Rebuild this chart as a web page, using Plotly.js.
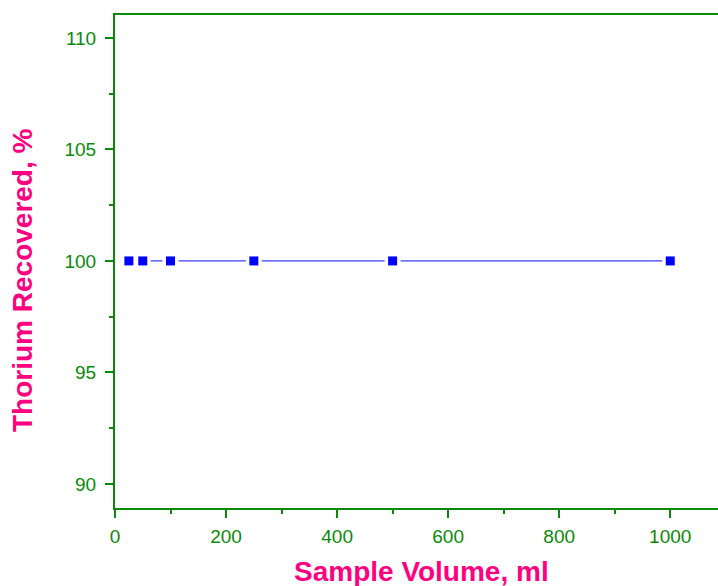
<!DOCTYPE html>
<html>
<head>
<meta charset="utf-8">
<script src="https://cdn.plot.ly/plotly-3.0.1.min.js"></script>
<style>html,body{margin:0;padding:0;background:#fff;}#chart{width:718px;height:586px;}</style>
</head>
<body>
<div id="chart"></div>
<script>
const sampleVolume = [25, 50, 100, 250, 500, 1000];
const thoriumRecovered = [100, 100, 100, 100, 100, 100];
const xTickVals = [0, 200, 400, 600, 800, 1000];
const yTickVals = [90, 95, 100, 105, 110];
const xTitle = 'Sample Volume, ml';
const yTitle = 'Thorium Recovered, %';

const green = '#0a8a0a';
const pink = '#ff0080';

const lineTrace = {
  x: sampleVolume,
  y: thoriumRecovered,
  type: 'scatter',
  mode: 'lines+markers',
  line: {color: '#3c3cff', width: 1.2},
  marker: {symbol: 'square', size: 16, color: '#ffffff'},
  showlegend: false,
  cliponaxis: false
};
const markerTrace = {
  x: sampleVolume,
  y: thoriumRecovered,
  type: 'scatter',
  mode: 'markers',
  marker: {symbol: 'square', size: 9, color: '#0000ff'},
  showlegend: false,
  cliponaxis: false
};

const layout = {
  width: 718, height: 586,
  margin: {l: 115, r: 0, t: 15, b: 78},
  paper_bgcolor: '#fff', plot_bgcolor: '#fff',
  font: {family: 'Arial, "Liberation Sans", sans-serif', color: green, size: 19},
  xaxis: {
    range: [0, 1086], showgrid: false, zeroline: false,
    showline: true, linecolor: green, linewidth: 2, mirror: true,
    ticks: 'outside', ticklen: 8, tickwidth: 2, tickcolor: green,
    tickvals: xTickVals, ticktext: xTickVals.map(String),
    minor: {dtick: 100, tick0: 0, ticks: 'outside', ticklen: 4, tickwidth: 2, tickcolor: green},
    tickfont: {size: 19, color: green}, ticklabelstandoff: 2
  },
  yaxis: {
    range: [88.92, 111.03], showgrid: false, zeroline: false,
    showline: true, linecolor: green, linewidth: 2,
    ticks: 'outside', ticklen: 8, tickwidth: 2, tickcolor: green,
    tickvals: yTickVals, ticktext: yTickVals.map(String),
    minor: {dtick: 2.5, tick0: 0, ticks: 'outside', ticklen: 4, tickwidth: 2, tickcolor: green},
    tickfont: {size: 19, color: green}, ticklabelstandoff: 5
  },
  annotations: [
    {text: '<b>' + xTitle + '</b>', xref: 'paper', yref: 'paper', x: 0.5, y: -0.128,
     xshift: 5, xanchor: 'center', yanchor: 'middle', showarrow: false,
     font: {size: 28, color: pink}},
    {text: '<b>' + yTitle + '</b>', xref: 'paper', yref: 'paper', x: 0, y: 0.4625,
     xshift: -92, xanchor: 'center', yanchor: 'middle', textangle: -90, showarrow: false,
     font: {size: 28, color: pink}}
  ]
};

Plotly.newPlot('chart', [lineTrace, markerTrace], layout, {displayModeBar: false, staticPlot: true});
</script>
</body>
</html>
